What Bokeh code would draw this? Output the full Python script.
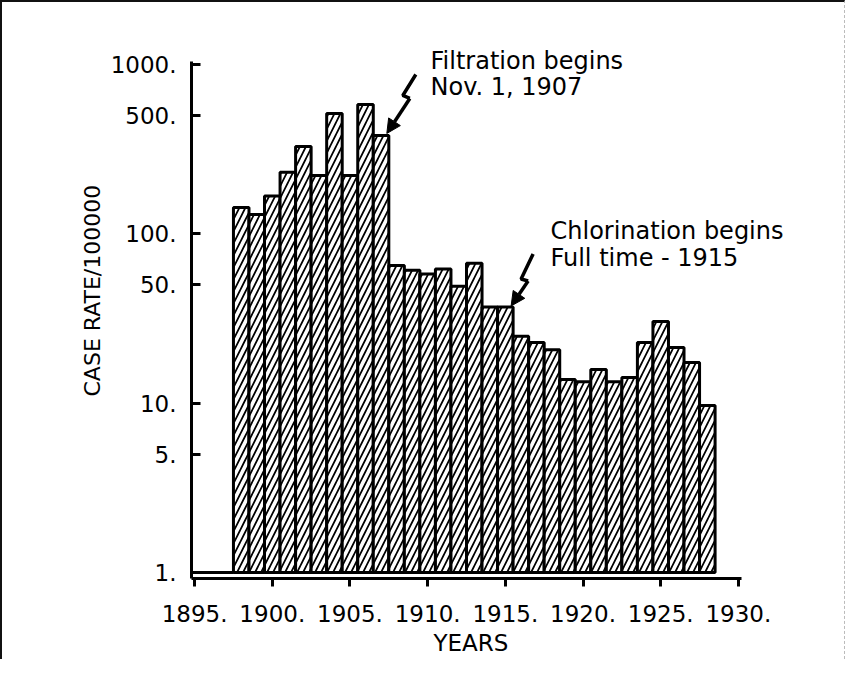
import math
from bokeh.plotting import figure
from bokeh.models import (FixedTicker, CustomJSTickFormatter, Label, Arrow,
                          NormalHead, Range1d, ColumnDataSource, Title)
from bokeh.embed import file_html
from bokeh.resources import INLINE

# ---------------- data ----------------
years = list(range(1898, 1929))
case_rate = [143, 130, 167, 231, 328, 221, 514, 221, 581, 381,
             65, 61, 58, 62, 49, 67, 37, 37, 24.8, 22.8, 20.7,
             13.8, 13.4, 15.8, 13.4, 14.2, 22.8, 30.4, 21.3, 17.4, 9.7]
x_ticks = [1895, 1900, 1905, 1910, 1915, 1920, 1925, 1930]
y_ticks = [1, 5, 10, 50, 100, 500, 1000]
events = [("Filtration begins", "Nov. 1, 1907", 1907),
          ("Chlorination begins", "Full time - 1915", 1915)]

FONT = "DejaVu Sans"

# ---------------- geometry ----------------
W, H = 845, 659
MX, MY = 4, 3                                # observed page offset of figure
PAGE_L, PAGE_R, PAGE_T, PAGE_B = 193, 800, 45, 579   # frame edges on page
FL, FT = PAGE_L - MX, PAGE_T - MY
FW, FH = PAGE_R - PAGE_L, PAGE_B - PAGE_T
FR, FB = W - FL - FW, H - FT - FH

AX0, AX1 = 1894.8, 1930.2                    # drawn x axis extent
PXY = 550 / (AX1 - AX0)                      # px per year
PXD = 169.33                                 # px per decade
x0 = AX0
x1 = AX0 + FW / PXY
y0 = 10 ** (-6 / PXD)
y1 = 1000 * 10 ** (20 / PXD)


def page_to_data(px, py):
    return x0 + (px - PAGE_L) / PXY, y0 * 10 ** ((PAGE_B - py) / PXD)


def offset(xd, yd, dx, dy):
    return xd + dx / PXY, yd * 10 ** (-dy / PXD)


p = figure(width=W, height=H, output_backend="svg", toolbar_location=None,
           y_axis_type="log", x_range=Range1d(x0, x1), y_range=Range1d(y0, y1),
           min_border_left=FL, min_border_top=FT, min_border_right=FR,
           min_border_bottom=FB, background_fill_color="white",
           border_fill_color="white")
p.outline_line_color = None
p.grid.visible = False
p.styles = {"border-top": "2px solid #111", "border-left": "2px solid #111",
            "border-right": "1px dashed #bbb"}

src = ColumnDataSource(dict(left=[y - 0.5 for y in years],
                            right=[y + 0.5 for y in years],
                            top=case_rate, bottom=[1] * len(years)))
p.quad(left="left", right="right", top="top", bottom="bottom", source=src,
       fill_color="white", line_color="black", line_width=3,
       hatch_pattern="/", hatch_color="black", hatch_weight=1.7,
       hatch_scale=12)

# baseline from the y axis to the first bar (at the "1." level)
p.segment(x0=[AX0], y0=[1], x1=[years[0] - 0.5], y1=[1],
          line_color="black", line_width=3)

fmt = CustomJSTickFormatter(code="return tick.toString() + '.';")

xa = p.xaxis[0]
xa.bounds = (AX0, AX1)
xa.ticker = FixedTicker(ticks=x_ticks)
xa.formatter = fmt
xa.axis_line_width = 3
xa.major_tick_line_width = 3
xa.major_tick_out = 8
xa.major_tick_in = 0
xa.minor_tick_line_color = None
xa.major_label_text_font = FONT
xa.major_label_text_font_size = "23px"
xa.major_label_text_color = "black"
xa.major_label_standoff = 18

ya = p.yaxis[0]
ya.bounds = (y0, 1040)
ya.ticker = FixedTicker(ticks=y_ticks)
ya.formatter = fmt
ya.axis_line_width = 3
ya.major_tick_line_width = 3
ya.major_tick_in = 9
ya.major_tick_out = 0
ya.minor_tick_line_color = None
ya.major_label_text_font = FONT
ya.major_label_text_font_size = "23px"
ya.major_label_text_color = "black"
ya.major_label_standoff = 15

# axis titles, positioned along the axes as in the reference
p.add_layout(Title(text="CASE RATE/100000", align="left", offset=182,
                   text_font=FONT, text_font_size="22px",
                   text_font_style="normal", text_color="black",
                   standoff=6), "left")
p.add_layout(Title(text="YEARS", align="left", offset=242,
                   text_font=FONT, text_font_size="23px",
                   text_font_style="normal", text_color="black",
                   standoff=6), "below")

# event annotations: lightning-bolt arrows and two-line texts
bolts = {1907: [(27, -61), (14, -40), (21, -37), (-2, -2)],
         1915: [(20, -53), (8, -28), (15, -26), (-2, -1)]}
text_pos = {1907: (432, 62, 88), 1915: (552, 232, 259)}

rate_of = dict(zip(years, case_rate))
for line1, line2, yr in events:
    tx, ty = yr + 0.5, rate_of[yr]
    pts = [offset(tx, ty, dx, dy) for dx, dy in bolts[yr]]
    p.line([q[0] for q in pts[:3]], [q[1] for q in pts[:3]],
           line_color="black", line_width=3.5)
    p.add_layout(Arrow(x_start=pts[2][0], y_start=pts[2][1],
                       x_end=pts[3][0], y_end=pts[3][1],
                       line_color="black", line_width=3.5,
                       end=NormalHead(size=14, fill_color="black",
                                      line_color="black")))
    px, py1, py2 = text_pos[yr]
    for txt, py in ((line1, py1), (line2, py2)):
        ax, ay = page_to_data(px, py)
        p.add_layout(Label(x=ax, y=ay, text=txt, text_align="left",
                           text_baseline="middle", text_font=FONT,
                           text_font_size="24px", text_color="black"))

open("out.html", "w").write(file_html(p, INLINE))
